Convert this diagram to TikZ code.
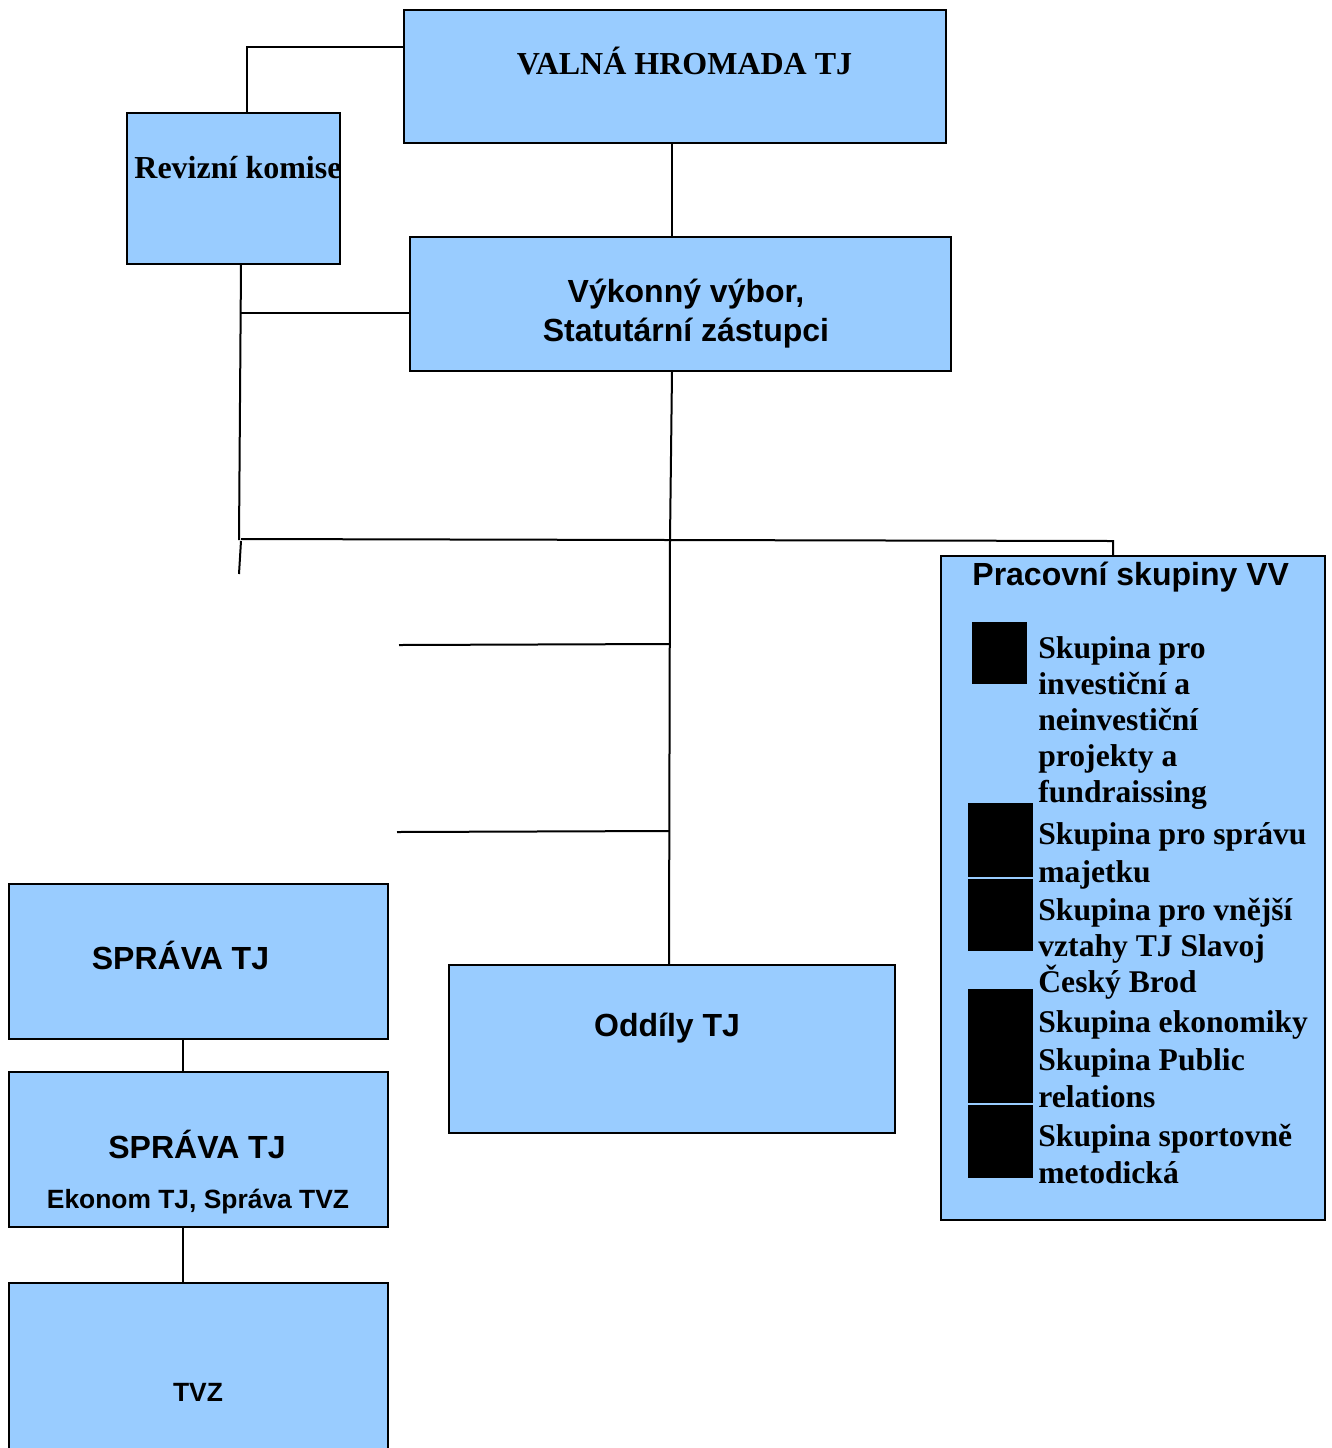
\documentclass[tikz,border=0pt]{standalone}
\usepackage{fontspec}
\setmainfont{Liberation Serif}
\newfontfamily\sansf{Liberation Sans}
\usetikzlibrary{fit}
\definecolor{boxblue}{HTML}{99CCFF}
\begin{document}
\begin{tikzpicture}[x=0.5pt,y=-0.5pt,
  box/.style={draw=black,fill=boxblue,line width=1pt,inner sep=0pt},
  sq/.style={fill=black,inner sep=0pt},
  link/.style={line width=1pt},
  serifb/.style={font=\fontsize{16}{19}\selectfont\bfseries,inner sep=0pt},
  sansb/.style={font=\sansf\fontsize{16}{19}\selectfont\bfseries,inner sep=0pt},
  sanss/.style={font=\sansf\fontsize{13.2}{16}\selectfont\bfseries,inner sep=0pt},
  item/.style={font=\fontsize{15.8}{18.5}\selectfont\bfseries,inner sep=0pt,anchor=base west}]
\useasboundingbox (0,0) rectangle (1332,1448);
% boxes
\node[box,fit={(404,10) (946,143)}] (vh) {};
\node[box,fit={(127,113) (340,264)}] (rk) {};
\node[box,fit={(410,237) (951,371)}] (vv) {};
\node[box,fit={(941,556) (1325,1220)}] (pr) {};
\node[box,fit={(9,884) (388,1039)}] (s1) {};
\node[box,fit={(9,1072) (388,1227)}] (s2) {};
\node[box,fit={(9,1283) (388,1460)}] (tvz) {};
\node[box,fit={(449,965) (895,1133)}] (od) {};
% texts
\node[serifb,anchor=base] (tvh) at (684.5,74) {VALNÁ HROMADA TJ};
\node[serifb,anchor=base west] (trk) at (134,178) {Revizní komise};
\node[sansb,anchor=base] (tvv1) at (686,302) {Výkonný výbor,};
\node[sansb,anchor=base] (tvv2) at (686,341) {Statutární zástupci};
\node[sansb,anchor=base west] (tpr) at (972,585) {Pracovní skupiny VV};
\node[sansb,anchor=base] (ts1) at (180.5,969) {SPRÁVA TJ};
\node[sansb,anchor=base] (ts2) at (197,1158) {SPRÁVA TJ};
\node[sanss,anchor=base] (ts2b) at (198,1208) {Ekonom TJ, Správa TVZ};
\node[sanss,anchor=base] (ttvz) at (198,1401) {TVZ};
\node[sansb,anchor=base] (tod) at (667,1036) {Oddíly TJ};
% bullets
\node[sq,fit={(972,622) (1027,684)}] (b1) {};
\node[sq,fit={(968,803) (1033,877)}] (b2) {};
\node[sq,fit={(968,879) (1033,951)}] (b3) {};
\node[sq,fit={(968,989) (1033,1103)}] (b4) {};
\node[sq,fit={(968,1105) (1033,1178)}] (b5) {};
% items
\node[item] (i1) at (1038,658) {\baselineskip=18pt\vtop{\hbox{Skupina pro}\hbox{investiční a}\hbox{neinvestiční}\hbox{projekty a}\hbox{fundraissing}}};
\node[item] (i2) at (1038,844) {\baselineskip=19pt\vtop{\hbox{Skupina pro správu}\hbox{majetku}}};
\node[item] (i3) at (1038,920) {\baselineskip=18pt\vtop{\hbox{Skupina pro vnější}\hbox{vztahy TJ Slavoj}\hbox{Český Brod}}};
\node[item] (i4) at (1038,1032) {Skupina ekonomiky};
\node[item] (i5) at (1038,1070) {\vtop{\hbox{Skupina Public}\hbox{relations}}};
\node[item] (i6) at (1038,1146) {\vtop{\hbox{Skupina sportovně}\hbox{metodická}}};
% junction coordinates
\coordinate (j1) at (247,47);
\coordinate (j2) at (241,313);
\coordinate (j3) at (239,540);
\coordinate (j4) at (670,540);
\coordinate (j5) at (1113,541);
\coordinate (j6) at (239,574);
\coordinate (j7) at (669,644);
\coordinate (e7) at (399,645);
\coordinate (j8) at (669,831);
\coordinate (e8) at (397,832);
\coordinate (rb) at (241,264);
% connectors
\draw[link] (vh.west |- j1) -- (j1) -- (rk.north -| j1);
\draw[link] (vh.south -| 672,0) -- (vv.north -| 672,0);
\draw[link] (rk.south -| rb) -- (j3);
\draw[link] (j2) -- (vv.west |- j2);
\draw[link] (vv.south -| 672,0) -- (j4) -- (od.north -| 669,0);
\draw[link] (241,539) -- (j4) -- (j5) -- (pr.north -| j5);
\draw[link] (241,541) -- (j6);
\draw[link] (e7) -- (j7);
\draw[link] (e8) -- (j8);
\draw[link] (s1.south -| 183,0) -- (s2.north -| 183,0);
\draw[link] (s2.south -| 183,0) -- (tvz.north -| 183,0);
\end{tikzpicture}
\end{document}
